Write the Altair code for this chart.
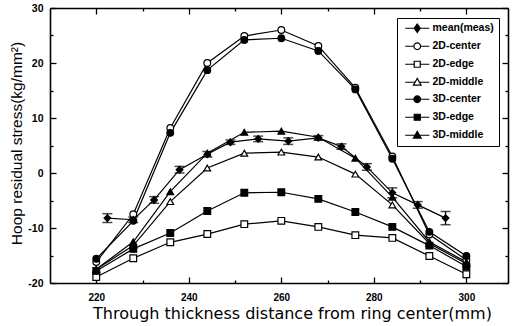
import altair as alt
import pandas as pd

# ---------------- data ----------------
series = ["mean(meas)", "2D-center", "2D-edge", "2D-middle", "3D-center", "3D-edge", "3D-middle"]

x_pos = [220, 228, 236, 244, 252, 260, 268, 276, 284, 292, 300]
center_2d = [-16.2, -7.5, 8.2, 20.0, 24.9, 26.0, 23.1, 15.5, 3.0, -11.2, -15.8]
edge_2d = [-18.9, -15.5, -12.6, -11.1, -9.3, -8.7, -9.8, -11.3, -11.8, -15.1, -18.4]
middle_2d = [-17.5, -13.2, -5.2, 0.9, 3.6, 3.8, 2.9, -0.2, -5.8, -12.8, -16.5]
center_3d = [-15.6, -8.7, 7.3, 18.7, 24.2, 24.5, 22.2, 15.2, 2.6, -10.7, -15.1]
edge_3d = [-17.8, -13.8, -10.9, -6.9, -3.6, -3.5, -4.7, -7.1, -9.8, -13.2, -17.0]
middle_3d = [-17.5, -12.5, -3.4, 3.6, 7.4, 7.6, 6.5, 2.7, -4.4, -12.5, -16.2]

mean_x = [222.4, 228, 232.5, 238, 244, 249, 255, 261.5, 268, 273, 278.5, 284, 289.5, 295.5]
mean_y = [-8.2, -8.5, -4.9, 0.6, 3.4, 5.6, 6.2, 5.8, 6.4, 4.8, 1.1, -3.6, -5.8, -8.2]
mean_err = [0.8, 0.5, 0.6, 0.6, 0.5, 0.4, 0.5, 0.6, 0.4, 0.5, 0.6, 0.9, 0.6, 1.2]

x_ticks = [220, 230, 240, 250, 260, 270, 280, 290, 300]
y_ticks = [-20, -15, -10, -5, 0, 5, 10, 15, 20, 25, 30]

shapes = ["diamond", "circle", "square", "triangle-up", "circle", "square", "triangle-up"]
fills = ["black", "white", "white", "white", "black", "black", "black"]
strokes = ["black"] * 7

# ---------------- tables ----------------
rows = []
for name, vals in zip(series[1:], [center_2d, edge_2d, middle_2d, center_3d, edge_3d, middle_3d]):
    for xv, yv in zip(x_pos, vals):
        rows.append({"series": name, "x": xv, "y": yv})
for xv, yv in zip(mean_x, mean_y):
    rows.append({"series": series[0], "x": xv, "y": yv})
df = pd.DataFrame(rows)

err = pd.DataFrame({"x": mean_x, "y": mean_y, "e": mean_err})

FONT_T = "DejaVu Sans"
FONT_Y = "Liberation Sans"
FONT_L = "Liberation Sans"

xscale = alt.Scale(domain=[210, 309], nice=False, zero=False)
yscale = alt.Scale(domain=[-20, 30], nice=False, zero=False)

tick_x = {"expr": "datum.value % 20 == 0 ? -6 : -3"}
tick_y = {"expr": "datum.value % 10 == 0 ? -6 : -3"}

ax_bottom = alt.Axis(orient="bottom", values=x_ticks, tickSize=tick_x, tickWidth=1.3,
                     labelExpr="datum.value % 20 == 0 ? datum.label : ''",
                     labelFont=FONT_L, labelFontWeight="bold", labelFontSize=10, labelColor="black",
                     labelPadding=15, grid=False, domainColor="black", domainWidth=1.6,
                     tickColor="black", title="Through thickness distance from ring center(mm)",
                     titleFont=FONT_T, titleFontSize=16, titleFontWeight="normal", titleColor="black",
                     titleX=242, titleY=35, titleBaseline="alphabetic", titleAlign="center")
ax_top = alt.Axis(orient="top", values=x_ticks, tickSize=tick_x, tickWidth=1.3, labels=False,
                  title=None, grid=False, domainColor="black", domainWidth=1.6, tickColor="black")
ax_left = alt.Axis(orient="left", values=y_ticks, tickSize=tick_y, tickWidth=1.3,
                   labelExpr="datum.value % 10 == 0 ? replace(datum.label, '\u2212', '-') : ''",
                   labelFont=FONT_L, labelFontWeight="bold", labelFontSize=10.5, labelColor="black",
                   labelPadding=13, grid=False, domainColor="black", domainWidth=1.6,
                   tickColor="black", title="Hoop residual stress(kg/mm\u00b2)",
                   titleFont=FONT_Y, titleFontSize=15.5, titleFontWeight="normal", titleColor="black",
                   titleX=-29, titleY=135, titleBaseline="alphabetic", titleAlign="center", titleAngle=270)
ax_right = alt.Axis(orient="right", values=y_ticks, tickSize=tick_y, tickWidth=1.3, labels=False,
                    title=None, grid=False, domainColor="black", domainWidth=1.6, tickColor="black")

# legend symbols: marker with a short line through it
p_circle = "M-3.6,0H-1M1,0H3.6M-1,0A1,1,0,1,1,1,0A1,1,0,1,1,-1,0Z"
p_square = "M-3.6,0H-0.9M0.9,0H3.6M-0.9,-0.9H0.9V0.9H-0.9Z"
p_tri = "M-3.6,0H-0.6M0.6,0H3.6M0,-1.15L1.15,0.85H-1.15Z"
p_diam = "M-3.6,0H-0.9M0.9,0H3.6M0,-1.25L0.9,0L0,1.25L-0.9,0Z"
legend_paths = [p_diam, p_circle, p_square, p_tri, p_circle, p_square, p_tri]

legend = alt.Legend(
    title=None, orient="none", legendX=347, legendY=10,
    strokeColor="black", fillColor="white", padding=5,
    symbolSize=45, symbolOffset=10, labelOffset=10, rowPadding=5,
    symbolStrokeColor="black", symbolStrokeWidth=1.2,
    labelFont=FONT_L, labelFontWeight="bold", labelFontSize=10.5, labelColor="black",
)

base = alt.Chart(df)

lines = base.mark_line(color="black", strokeWidth=1.2).encode(
    x=alt.X("x:Q", scale=xscale, axis=ax_bottom),
    y=alt.Y("y:Q", scale=yscale, axis=ax_left),
    detail="series:N",
    order="x:Q",
)

points = base.mark_point(filled=True, size=45, stroke="black", strokeWidth=1.2, opacity=1).encode(
    x=alt.X("x:Q", scale=xscale, axis=ax_top),
    y=alt.Y("y:Q", scale=yscale, axis=ax_right),
    shape=alt.Shape("series:N", scale=alt.Scale(domain=series, range=shapes), legend=None),
    fill=alt.Fill("series:N", scale=alt.Scale(domain=series, range=fills), legend=None),
)

# layer that only carries the legend (its marks fall outside the clipped view)
legend_layer = base.transform_calculate(y_out="datum.y + 1000").mark_point(
    filled=True, size=45, strokeWidth=1.2, opacity=1, clip=True
).encode(
    x=alt.X("x:Q", scale=xscale, axis=None),
    y=alt.Y("y_out:Q", scale=yscale, axis=None),
    shape=alt.Shape("series:N", scale=alt.Scale(domain=series, range=legend_paths), legend=legend),
    fill=alt.Fill("series:N", scale=alt.Scale(domain=series, range=fills), legend=legend),
    stroke=alt.Stroke("series:N", scale=alt.Scale(domain=series, range=strokes), legend=legend),
)

ebase = alt.Chart(err).transform_calculate(lo="datum.y - datum.e", hi="datum.y + datum.e")
erule = ebase.mark_rule(color="black", strokeWidth=1.3).encode(
    x=alt.X("x:Q", scale=xscale, axis=None),
    y=alt.Y("lo:Q", scale=yscale, axis=None),
    y2="hi:Q",
)
etick_lo = ebase.mark_tick(color="black", orient="horizontal", size=10, thickness=1.5).encode(
    x=alt.X("x:Q", scale=xscale, axis=None),
    y=alt.Y("lo:Q", scale=yscale, axis=None),
)
etick_hi = ebase.mark_tick(color="black", orient="horizontal", size=10, thickness=1.5).encode(
    x=alt.X("x:Q", scale=xscale, axis=None),
    y=alt.Y("hi:Q", scale=yscale, axis=None),
)

chart = alt.layer(lines, erule, etick_lo, etick_hi, points, legend_layer).resolve_axis(
    x="independent", y="independent"
).resolve_scale(
    shape="independent", fill="independent", stroke="independent"
).properties(
    width=458, height=275,
    autosize=alt.AutoSizeParams(type="none"),
    padding={"left": 50, "top": 8, "right": 5, "bottom": 43},
    background="white",
).configure_view(stroke=None)

chart.save("out.html", embed_options={"renderer": "svg", "actions": False})
